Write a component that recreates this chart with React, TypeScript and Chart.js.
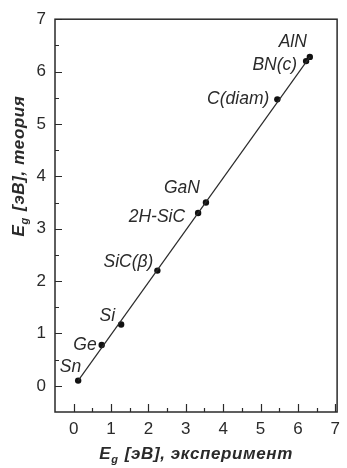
import React, { useEffect, useRef } from "react";
import { Chart, registerables } from "chart.js";

Chart.register(...registerables);

const materials = ["Sn", "Ge", "Si", "SiC(β)", "2H-SiC", "GaN", "C(diam)", "BN(c)", "AlN"];
const expGap = [0.12, 0.75, 1.27, 2.24, 3.33, 3.54, 5.45, 6.22, 6.32];
const theoryGap = [0.1, 0.78, 1.17, 2.2, 3.3, 3.5, 5.47, 6.2, 6.28];
const fitX = [0.12, 6.32];
const fitY = [0.1, 6.28];
const xTicks = [0, 1, 2, 3, 4, 5, 6, 7];
const yTicks = [0, 1, 2, 3, 4, 5, 6, 7];
const xMinor = [0.5, 1.5, 2.5, 3.5, 4.5, 5.5, 6.5];
const yMinor = [0.5, 1.5, 2.5, 3.5, 4.5, 5.5, 6.5];

// label placement (style): [dx of right edge from point, dy of centre]
const labelOffsets: [number, number][] = [
  [3, -13], [-5, 0], [-6, -8], [-4, -8], [-13, 4], [-6, -14], [-8, 0], [-9, 4], [-3, -15],
];

const FONT = "'Liberation Sans', Arial, sans-serif";
const INK = "#2a2a2a";

function drawTitle(ctx: CanvasRenderingContext2D, cx: number, cy: number, rest: string) {
  const big = `italic bold 17px ${FONT}`;
  const small = `italic bold 11px ${FONT}`;
  (ctx as any).letterSpacing = "0.6px";
  ctx.font = big;
  const wE = ctx.measureText("E").width;
  const wR = ctx.measureText(rest).width;
  ctx.font = small;
  const wg = ctx.measureText("g").width;
  const total = wE + wg + 1 + wR;
  let x = cx - total / 2;
  ctx.textBaseline = "alphabetic";
  ctx.textAlign = "left";
  ctx.fillStyle = INK;
  ctx.font = big;
  ctx.fillText("E", x, cy);
  x += wE;
  ctx.font = small;
  ctx.fillText("g", x, cy + 4);
  x += wg + 1;
  ctx.font = big;
  ctx.fillText(rest, x, cy);
  (ctx as any).letterSpacing = "0px";
}

const decor = {
  id: "decor",
  afterDatasetsDraw(chart: any) {
    const ctx: CanvasRenderingContext2D = chart.ctx;
    const xs = chart.scales.x;
    const ys = chart.scales.y;
    const { left, right, top, bottom } = chart.chartArea;
    ctx.save();
    // point labels
    ctx.font = `italic 17.5px ${FONT}`;
    ctx.fillStyle = INK;
    ctx.textAlign = "right";
    ctx.textBaseline = "middle";
    materials.forEach((m, i) => {
      const px = xs.getPixelForValue(expGap[i]);
      const py = ys.getPixelForValue(theoryGap[i]);
      const [dx, dy] = labelOffsets[i];
      ctx.fillText(m, px + dx, py + dy);
    });
    // frame
    ctx.strokeStyle = INK;
    ctx.lineWidth = 1.5;
    ctx.strokeRect(left, top, right - left, bottom - top);
    // ticks
    ctx.lineWidth = 1.2;
    ctx.beginPath();
    xTicks.forEach((v) => {
      const p = Math.round(xs.getPixelForValue(v)) + 0.5;
      ctx.moveTo(p, bottom);
      ctx.lineTo(p, bottom - 8);
    });
    xMinor.forEach((v) => {
      const p = Math.round(xs.getPixelForValue(v)) + 0.5;
      ctx.moveTo(p, bottom);
      ctx.lineTo(p, bottom - 4);
    });
    yTicks.forEach((v) => {
      const p = Math.round(ys.getPixelForValue(v)) + 0.5;
      ctx.moveTo(left, p);
      ctx.lineTo(left + 7, p);
    });
    yMinor.forEach((v) => {
      const p = Math.round(ys.getPixelForValue(v)) + 0.5;
      ctx.moveTo(left, p);
      ctx.lineTo(left + 4, p);
    });
    ctx.stroke();
    // axis titles
    drawTitle(ctx, (left + right) / 2, 459, " [эВ], эксперимент");
    ctx.save();
    ctx.translate(24, 166);
    ctx.rotate(-Math.PI / 2);
    drawTitle(ctx, 0, 0, " [эВ], теория");
    ctx.restore();
    ctx.restore();
  },
};

export default function App() {
  const ref = useRef<HTMLCanvasElement | null>(null);
  useEffect(() => {
    if (!ref.current) return;
    const chart = new Chart(ref.current, {
      type: "scatter",
      data: {
        datasets: [
          {
            type: "line",
            data: fitX.map((x, i) => ({ x, y: fitY[i] })),
            borderColor: INK,
            borderWidth: 1.2,
            pointRadius: 0,
            fill: false,
          } as any,
          {
            data: expGap.map((x, i) => ({ x, y: theoryGap[i] })),
            backgroundColor: "#111",
            borderColor: "#111",
            pointRadius: 3.2,
            borderWidth: 0,
          },
        ],
      },
      options: {
        animation: false,
        responsive: false,
        plugins: { legend: { display: false }, tooltip: { enabled: false } },
        layout: { padding: { top: 19, right: 5, left: 0, bottom: 0 } },
        scales: {
          x: {
            type: "linear",
            min: -0.5,
            max: 7.05,
            grid: { display: false, drawTicks: false },
            border: { display: false },
            afterBuildTicks: (s: any) => {
              s.ticks = xTicks.map((v) => ({ value: v }));
            },
            afterFit: (s: any) => {
              s.height = 56;
            },
            ticks: {
              padding: 7,
              color: INK,
              font: { family: FONT, size: 17 },
              maxRotation: 0,
              autoSkip: false,
            },
          },
          y: {
            type: "linear",
            min: -0.5,
            max: 7,
            grid: { display: false, drawTicks: false },
            border: { display: false },
            afterBuildTicks: (s: any) => {
              s.ticks = yTicks.map((v) => ({ value: v }));
            },
            afterFit: (s: any) => {
              s.width = 55;
            },
            ticks: {
              padding: 9,
              color: INK,
              font: { family: FONT, size: 17 },
              autoSkip: false,
            },
          },
        },
      },
      plugins: [decor],
    });
    return () => chart.destroy();
  }, []);
  return (
    <div style={{ position: "absolute", left: 0, top: 0, width: 347, height: 468, background: "#fff" }}>
      <canvas ref={ref} width={347} height={468} style={{ display: "block" }} />
    </div>
  );
}
